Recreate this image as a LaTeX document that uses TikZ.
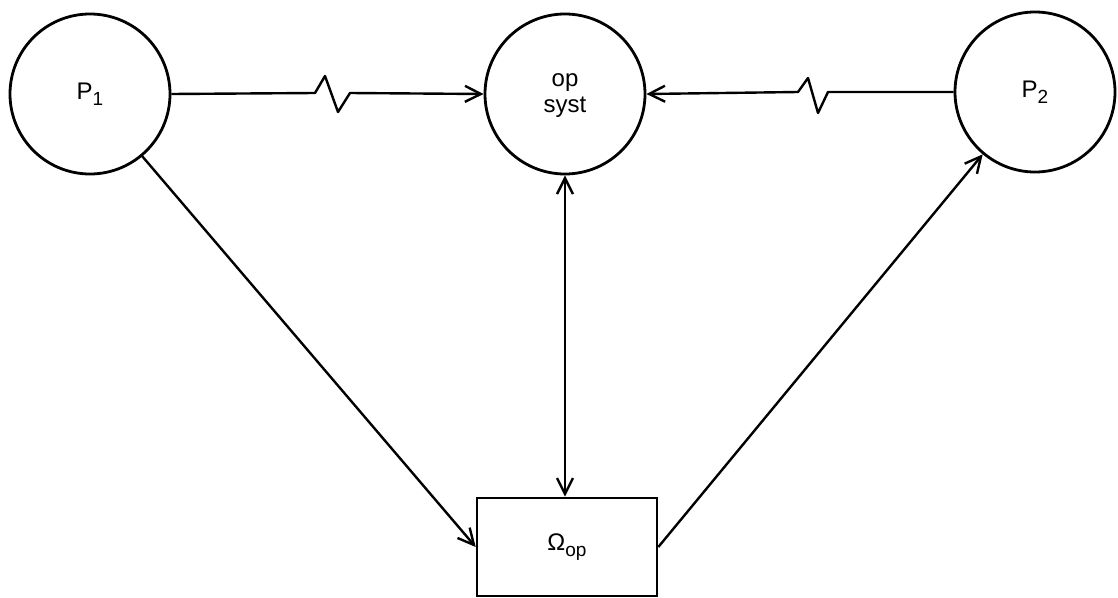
\documentclass[tikz,border=0pt]{standalone}
\usepackage{fontspec}
\setmainfont{Liberation Sans}
\usetikzlibrary{arrows.meta}
\newcommand{\lowsub}[1]{\raisebox{-6pt}{\fontsize{19}{22}\selectfont #1}}
\begin{document}
\begin{tikzpicture}[x=1pt,y=-1pt,
  every node/.style={font=\fontsize{24}{28}\selectfont},
  proc/.style={draw, circle, line width=2.8pt, minimum size=160pt, inner sep=0pt},
  store/.style={draw, rectangle, line width=2.6pt, minimum width=180pt, minimum height=98pt, inner sep=0pt},
  barb/.tip={Straight Barb[length=16pt,width=16pt,line width=2.4pt]},
  link/.style={line width=2.4pt, line join=round},
  tip/.style={-barb}]
\useasboundingbox (0,0) rectangle (1118,597);
\fill[white] (0,0) rectangle (1118,597);

% processes and the operating system
\node[proc] (p1) at (90,94) {P\lowsub{1}};
\node[proc] (os) at (565,94) {\begin{tabular}{@{}c@{}}op\\[-2pt]syst\end{tabular}};
\node[proc] (p2) at (1035,92) {P\lowsub{2}};

% shared store
\node[store] (om) at (567,547) {Ω\lowsub{op}};

% requests to the operating system with a break in the line
\draw[link,tip] (p1.east) -- (315,93) -- (325,76) -- (338,112) -- (350,93) -- (os.west);
\draw[link,tip] (p2.west) -- (828,92) -- (818,113) -- (808,78) -- (798,92) -- (os.east);

% access to the store
\draw[link,tip] (p1.-50) -- (om.west);
\draw[link,tip] (om.east) -- (p2.-130);
\draw[link,barb-barb] (os.south) -- (os.south |- om.north);
\end{tikzpicture}
\end{document}
